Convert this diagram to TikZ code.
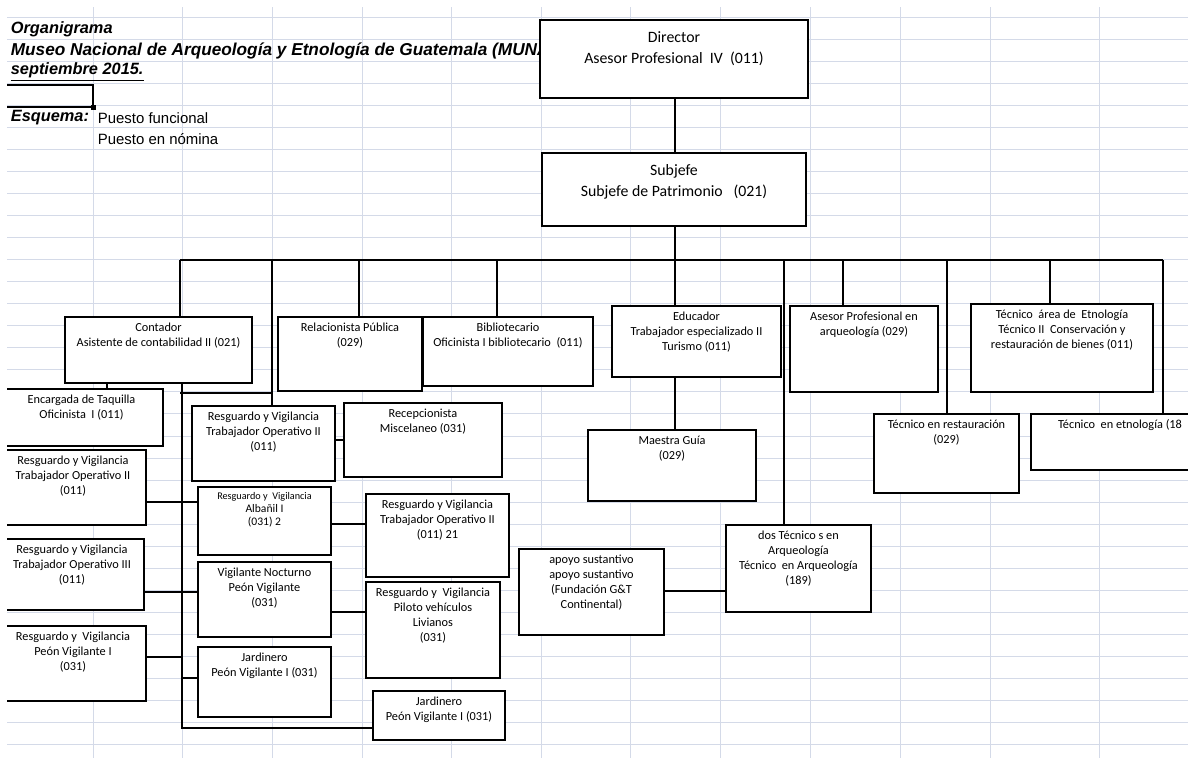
\documentclass[tikz,border=0pt]{standalone}
\usepackage{fontspec}
\setmainfont{Carlito}
\newfontfamily\arialfont{Liberation Sans}
\usetikzlibrary{positioning,fit}
\definecolor{rejilla}{RGB}{212,218,232}

\begin{document}
\begin{tikzpicture}[x=0.2mm,y=-0.2mm,line width=1pt,
                    font=\fontsize{7}{8.5}\selectfont]
  \tikzstyle{caja}=[draw,fill=white,inner sep=0pt,line width=0.9pt]
  \tikzstyle{txt}=[below=3.3pt,align=center,inner sep=0pt]
  \tikzstyle{grande}=[below=6.5pt,align=center,inner sep=0pt,font=\fontsize{9}{12}\selectfont]
  \tikzstyle{titulo}=[anchor=west,inner sep=0pt,font=\arialfont\bfseries\itshape\fontsize{9.3}{11}\selectfont]
  \tikzstyle{leyenda}=[anchor=west,inner sep=0pt,font=\arialfont\fontsize{8.5}{10}\selectfont]
  \tikzstyle{linea}=[line width=0.5pt,draw=rejilla]

  \useasboundingbox (0,0) rectangle (1188,758);
  \clip (7,7) rectangle (1188,758);

  \foreach \y in {0,...,33}
    \draw[linea] (7,17+22.05*\y) -- (1188,17+22.05*\y);
  \foreach \x in {93,182,272,362,451,541,630,720,810,900,990,1099}
    \draw[linea] (\x,7) -- (\x,758);

  \node[titulo]		(T1) at (10,29)		{Organigrama};
  \node[titulo,font=\arialfont\bfseries\itshape\fontsize{9.8}{11}\selectfont]
  			(T2) at (10,51)		{Museo Nacional de Arqueología y Etnología de Guatemala (MUNAE)};
  \node[titulo]		(T3) at (10,72)		{\underline{septiembre 2015.}};
  \node[titulo]		(T4) at (10,118)	{Esquema:};
  \node[leyenda]	(L1) at (97,118)	{Puesto funcional};
  \node[leyenda]	(L2) at (97,139)	{Puesto en nómina};

  \draw[line width=1.5pt] (0,85) -| (93,107) -- (0,107);
  \fill (90.5,104.5) rectangle (95.5,109.5);

  \coordinate (b1) at (180,260);
  \coordinate (b2) at (272,260);
  \coordinate (b3) at (359,260);
  \coordinate (b4) at (497,260);
  \coordinate (b5) at (675,260);
  \coordinate (b6) at (784,260);
  \coordinate (b7) at (843,260);
  \coordinate (b8) at (947,260);
  \coordinate (b9) at (1050,260);
  \coordinate (b10) at (1163,260);
  \coordinate (s0) at (182,383);
  \coordinate (s1) at (182,393);
  \coordinate (s2) at (182,728);

  \node[caja,fit={(540,20) (808,98)},label={[grande]north:{Director\\Asesor Profesional~ IV~ (011)}}] (A) {};
  \node[caja,fit={(542,153) (806,226)},label={[grande]north:{Subjefe\\Subjefe de Patrimonio~~ (021)}}] (B) {};
  \node[caja,fit={(65,317) (252,383)},label={[txt]north:{Contador\\Asistente de contabilidad II (021)}}] (C) {};
  \node[caja,fit={(0,389) (163,446)},label={[txt]north:{Encargada de Taquilla\\Oficinista~ I (011)}}] (D) {};
  \node[caja,fit={(612,306) (781,377)},label={[txt]north:{Educador\\Trabajador especializado II\\Turismo (011)}}] (E) {};
  \node[caja,fit={(278,317) (422,391)},label={[txt]north:{Relacionista Pública\\(029)}}] (F) {};
  \node[caja,fit={(423,317) (593,386)},label={[txt]north:{Bibliotecario\\Oficinista I bibliotecario~ (011)}}] (G) {};
  \node[caja,fit={(790,306) (938,392)},label={[txt]north:{Asesor Profesional en\\arqueología (029)}}] (H) {};
  \node[caja,fit={(971,304) (1153,392)},label={[txt]north:{Técnico~ área de~ Etnología\\Técnico II~ Conservación y\\restauración de bienes (011)}}] (I) {};
  \node[caja,fit={(726,525) (871,612)},label={[txt]north:{dos Técnico s en\\Arqueología\\Técnico~ en Arqueología\\(189)}}] (J) {};
  \node[caja,fit={(874,414) (1019,493)},label={[txt]north:{Técnico en restauración\\(029)}}] (K) {};
  \node[caja,fit={(1031,414) (1209,470)},label={[txt]north:{Técnico~ en etnología (18}}] (L) {};
  \node[caja,fit={(192,406) (335,481)},label={[txt]north:{Resguardo y Vigilancia\\Trabajador Operativo II\\(011)}}] (M) {};
  \node[caja,fit={(344,403) (502,477)},label={[txt]north:{Recepcionista\\Miscelaneo (031)}}] (N) {};
  \node[caja,fit={(0,450) (146,525)},label={[txt]north:{Resguardo y Vigilancia\\Trabajador Operativo II\\(011)}}] (O) {};
  \node[caja,fit={(0,539) (144,610)},label={[txt]north:{Resguardo y Vigilancia\\Trabajador Operativo III\\(011)}}] (P) {};
  \node[caja,fit={(0,626) (146,701)},label={[txt]north:{Resguardo y~ Vigilancia\\Peón Vigilante I\\(031)}}] (Q) {};
  \node[caja,fit={(198,487) (331,555)},label={[txt,font=\fontsize{6.6}{7.4}\selectfont]north:{{\fontsize{5.8}{7.4}\selectfont Resguardo y~ Vigilancia}\\Albañil I\\(031) 2}}] (R) {};
  \node[caja,fit={(198,562) (331,637)},label={[txt]north:{Vigilante Nocturno\\Peón Vigilante\\(031)}}] (S) {};
  \node[caja,fit={(198,647) (331,717)},label={[txt]north:{Jardinero\\Peón Vigilante I (031)}}] (T) {};
  \node[caja,fit={(366,494) (509,577)},label={[txt]north:{Resguardo y Vigilancia\\Trabajador Operativo II\\(011) 21}}] (U) {};
  \node[caja,fit={(366,582) (500,678)},label={[txt]north:{Resguardo y~ Vigilancia\\Piloto vehículos\\Livianos\\(031)}}] (V) {};
  \node[caja,fit={(373,691) (505,740)},label={[txt]north:{Jardinero\\Peón Vigilante I (031)}}] (W) {};
  \node[caja,fit={(519,549) (664,635)},label={[txt]north:{apoyo sustantivo\\apoyo sustantivo\\(Fundación G\&T\\Continental)}}] (X) {};
  \node[caja,fit={(588,430) (756,501)},label={[txt]north:{Maestra Guía\\(029)}}] (Y) {};

  \draw (A.south -| b5) -- (b5 |- B.north);
  \draw (B.south -| b5) -- (b5 |- E.north);
  \draw (b1) -- (b10);
  \foreach \p/\n in {b1/C,b3/F,b4/G,b6/J,b7/H,b8/K,b9/I,b10/L}
    \draw (\p) -- (\p |- \n.north);
  \draw[line width=1.4pt] (b2) -- (b2 |- M.north);
  \draw (b2 |- s1) -- (b1 |- s1);
  \draw (s0) -- (s2) -- (s2 -| W.west);
  \draw (C.south -| 107,0) -- (D.north -| 107,0);
  \draw (O.east |- 0,502) -- (R.west |- 0,502);
  \draw (P.east |- 0,592) -- (S.west |- 0,592);
  \draw (Q.east |- 0,657) -- (s0 |- 0,657);
  \draw (s0 |- 0,678) -- (T.west |- 0,678);
  \draw (M.east |- N.west) -- (N.west);
  \draw (R.east |- 0,524) -- (U.west |- 0,524);
  \draw (S.east |- 0,612) -- (V.west |- 0,612);
  \draw (E.south -| b5) -- (b5 |- Y.north);
  \draw (X.east |- 0,591) -- (J.west |- 0,591);
\end{tikzpicture}
\end{document}
